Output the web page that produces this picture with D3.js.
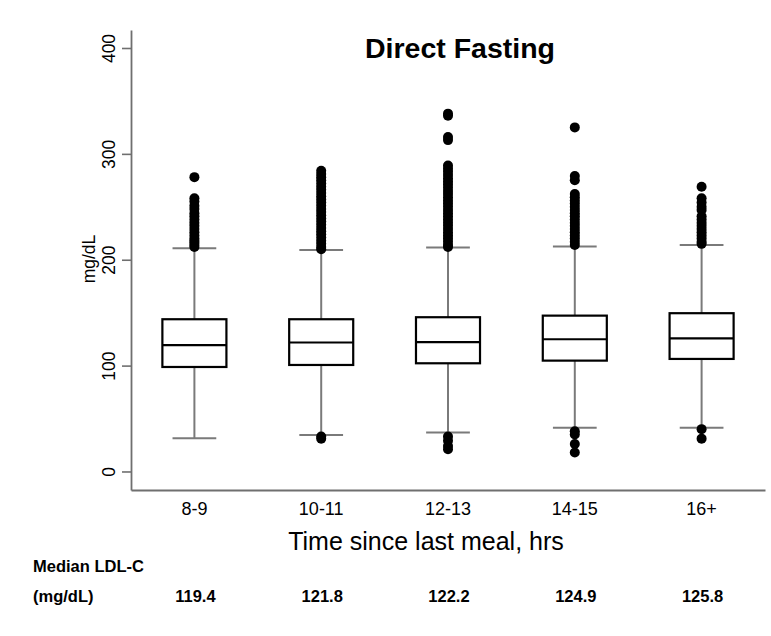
<!DOCTYPE html>
<html>
<head>
<meta charset="utf-8">
<script src="https://cdn.jsdelivr.net/npm/d3@7"></script>
<style>
  html, body { margin: 0; padding: 0; background: #fff; }
  svg { display: block; font-family: Arial, "Liberation Sans", Helvetica, sans-serif; }
</style>
</head>
<body>
<svg id="chart" width="771" height="636"></svg>
<script>
// ---- Data ----
const categories = ["8-9", "10-11", "12-13", "14-15", "16+"];
const q1Values = [98.7, 100.6, 102.2, 104.7, 106.3];
const medianValues = [119.4, 121.8, 122.2, 124.9, 125.8];
const q3Values = [143.8, 143.8, 145.7, 147.2, 149.5];
const whiskerLow = [31.4, 34.5, 36.7, 41.4, 41.4];
const whiskerHigh = [210.9, 209.3, 211.5, 212.4, 214.0];
const outliers89 = [278, 258, 255, 251, 248, 244, 241, 238, 235, 232, 229, 226, 223, 220, 218, 216, 214, 212];
const outliers1011 = [284, 281, 278, 275, 272, 269, 266, 263, 260, 257, 254, 251, 248, 245, 242, 239, 236, 233, 230, 227, 224, 221, 218, 215, 212, 210, 33, 31];
const outliers1213 = [338, 336, 316, 313, 289, 286, 283, 280, 277, 274, 271, 268, 265, 262, 259, 256, 253, 250, 247, 244, 241, 238, 235, 232, 229, 226, 223, 220, 217, 214, 212, 33, 29, 24, 21];
const outliers1415 = [325, 279, 275, 262, 259, 256, 253, 250, 247, 244, 241, 238, 235, 232, 229, 226, 223, 220, 217, 214, 38, 35, 26, 18];
const outliers16 = [269, 258, 254, 250, 247, 241, 238, 235, 232, 229, 226, 223, 220, 217, 215, 40, 31];
const outlierLists = [outliers89, outliers1011, outliers1213, outliers1415, outliers16];
const medianLabels = ["119.4", "121.8", "122.2", "124.9", "125.8"];
const yTicks = [0, 100, 200, 300, 400];
const titleText = "Direct Fasting";
const xTitle = "Time since last meal, hrs";
const yTitle = "mg/dL";

// ---- Scales ----
const svg = d3.select("#chart");
const x = d3.scaleBand().domain(categories).range([131, 765]);
const y = d3.scaleLinear().domain([-17.5, 417]).range([490, 30]);

const axisColor = "#6f6f6f";
const whiskerColor = "#7a7a7a";

// ---- Axes ----
const yAxis = svg.append("g")
  .attr("transform", "translate(131,0)")
  .call(d3.axisLeft(y).tickValues(yTicks).tickSize(9).tickSizeOuter(0));
yAxis.select(".domain").attr("stroke", axisColor).attr("stroke-width", 1.8);
yAxis.selectAll(".tick line").attr("stroke", axisColor).attr("stroke-width", 1.6);
yAxis.selectAll(".tick text")
  .attr("x", null).attr("dy", null).attr("y", null)
  .attr("text-anchor", "middle")
  .attr("transform", "translate(-16,0) rotate(-90)")
  .attr("fill", "#000")
  .style("font-size", "17.5px")
  .style("font-family", "Arial, 'Liberation Sans', sans-serif");

const xAxis = svg.append("g")
  .attr("transform", "translate(0,490)")
  .call(d3.axisBottom(x).tickSize(0).tickSizeOuter(0));
xAxis.select(".domain").attr("stroke", axisColor).attr("stroke-width", 1.8);
xAxis.selectAll(".tick text")
  .attr("y", 25).attr("dy", null)
  .attr("fill", "#000")
  .style("font-size", "18px")
  .style("font-family", "Arial, 'Liberation Sans', sans-serif");

// ---- Boxes ----
const boxData = categories.map((c, i) => ({
  cat: c, q1: q1Values[i], med: medianValues[i], q3: q3Values[i],
  lo: whiskerLow[i], hi: whiskerHigh[i], out: outlierLists[i]
}));
const boxW = x.bandwidth() * 0.505;
const capW = x.bandwidth() * 0.345;

const g = svg.append("g");
const box = g.selectAll("g.box").data(boxData).join("g").attr("class", "box");
const cx = d => x(d.cat) + x.bandwidth() / 2;

// whiskers
box.append("line")
  .attr("x1", cx).attr("x2", cx)
  .attr("y1", d => y(d.q3)).attr("y2", d => y(d.hi))
  .attr("stroke", whiskerColor).attr("stroke-width", 2);
box.append("line")
  .attr("x1", cx).attr("x2", cx)
  .attr("y1", d => y(d.q1)).attr("y2", d => y(d.lo))
  .attr("stroke", whiskerColor).attr("stroke-width", 2);
// caps
box.append("line")
  .attr("x1", d => cx(d) - capW / 2).attr("x2", d => cx(d) + capW / 2)
  .attr("y1", d => y(d.hi)).attr("y2", d => y(d.hi))
  .attr("stroke", whiskerColor).attr("stroke-width", 2);
box.append("line")
  .attr("x1", d => cx(d) - capW / 2).attr("x2", d => cx(d) + capW / 2)
  .attr("y1", d => y(d.lo)).attr("y2", d => y(d.lo))
  .attr("stroke", whiskerColor).attr("stroke-width", 2);
// box
box.append("rect")
  .attr("x", d => cx(d) - boxW / 2).attr("width", boxW)
  .attr("y", d => y(d.q3)).attr("height", d => y(d.q1) - y(d.q3))
  .attr("fill", "#fff").attr("stroke", "#000").attr("stroke-width", 2.2);
// median
box.append("line")
  .attr("x1", d => cx(d) - boxW / 2).attr("x2", d => cx(d) + boxW / 2)
  .attr("y1", d => y(d.med)).attr("y2", d => y(d.med))
  .attr("stroke", "#000").attr("stroke-width", 2.2);
// outliers
box.selectAll("circle").data(d => d.out.map(v => ({ cat: d.cat, v })))
  .join("circle")
  .attr("cx", cx).attr("cy", d => y(d.v)).attr("r", 5)
  .attr("fill", "#000");

// ---- Titles ----
svg.append("text")
  .attr("x", 460).attr("y", 58)
  .attr("text-anchor", "middle")
  .style("font-size", "28.5px").style("font-weight", "bold")
  .text(titleText);

svg.append("text")
  .attr("x", 426).attr("y", 550)
  .attr("text-anchor", "middle")
  .style("font-size", "25px")
  .text(xTitle);

svg.append("text")
  .attr("transform", "translate(95,259) rotate(-90)")
  .attr("text-anchor", "middle")
  .style("font-size", "17.5px")
  .text(yTitle);

// ---- Median table ----
svg.append("text")
  .attr("x", 33).attr("y", 572)
  .style("font-size", "16.5px").style("font-weight", "bold")
  .text("Median LDL-C");
svg.append("text")
  .attr("x", 33).attr("y", 602)
  .style("font-size", "16.5px").style("font-weight", "bold")
  .text("(mg/dL)");
svg.append("g").selectAll("text").data(categories).join("text")
  .attr("x", d => x(d) + x.bandwidth() / 2 + 1)
  .attr("y", 602)
  .attr("text-anchor", "middle")
  .style("font-size", "16.5px").style("font-weight", "bold")
  .text((d, i) => medianLabels[i]);
</script>
</body>
</html>
